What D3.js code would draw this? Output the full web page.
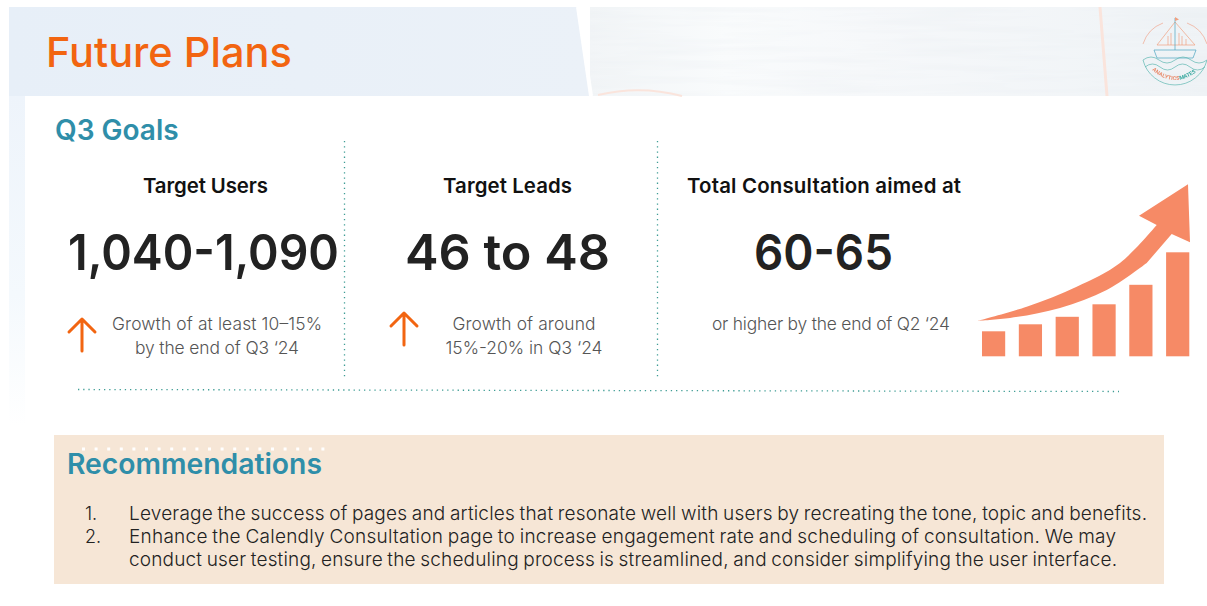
<!DOCTYPE html>
<html><head><meta charset="utf-8">
<script src="https://cdn.jsdelivr.net/npm/d3@7"></script>
<style>html,body{margin:0;background:#fff;overflow:hidden}svg{display:block}text{font-family:"Inter","Noto Sans",sans-serif}</style>
</head><body><svg id="c" width="1207" height="606"></svg>
<script>
const title = "Future Plans";
const goalsTitle = "Q3 Goals";
const kpiHeads = ["Target Users", "Target Leads", "Total Consultation aimed at"];
const kpiValues = ["1,040-1,090", "46 to 48", "60-65"];
const kpiNotes = [["Growth of at least 10–15%", "by the end of Q3 ‘24"], ["Growth of around", "15%-20% in Q3 ‘24"], ["or higher by the end of Q2 ‘24"]];
const recTitle = "Recommendations";
const recNums = ["1.", "2.", ""];
const recLines = [
 "Leverage the success of pages and articles that resonate well with users by recreating the tone, topic and benefits.",
 "Enhance the Calendly Consultation page to increase engagement rate and scheduling of consultation. We may",
 "conduct user testing, ensure the scheduling process is streamlined, and consider simplifying the user interface."];
const barCats = ["a", "b", "c", "d", "e", "f"];
const barVals = [25, 32, 39.5, 52, 71.5, 104];
const arrowUpper = [[-1.4,35.6],[47,49.6],[97,69.6],[140.3,93.3],[177,131.3]];
const arrowHead = [[159.3,140.6],[208.3,172],[210.3,114],[192,122.3]];
const arrowLower = [[167,93.3],[127,66.3],[80.3,48.3],[30.3,38.3],[-1.4,35.6]];

const svg = d3.select("#c");
const orange = "#f26511", teal = "#2f8ea9", salmon = "#f68a66", dot = "#3f9d95";
const defs = svg.append("defs");
const g = defs.append("linearGradient").attr("id", "bg");
[["0%","#f2f5f7"],["22%","#f9fbfc"],["45%","#f6f8fa"],["100%","#eff3f6"]].forEach(d => g.append("stop").attr("offset", d[0]).attr("stop-color", d[1]));
const lf = defs.append("linearGradient").attr("id","lf").attr("x1",0).attr("x2",0).attr("y1",0).attr("y2",1);
lf.append("stop").attr("offset","0%").attr("stop-color","#eef4fb");
lf.append("stop").attr("offset","60%").attr("stop-color","#f4f9fd");
lf.append("stop").attr("offset","100%").attr("stop-color","#ffffff");
const bl = defs.append("linearGradient").attr("id","bl");
bl.append("stop").attr("offset","0%").attr("stop-color","#e7eff8");
bl.append("stop").attr("offset","100%").attr("stop-color","#ebf1f8");
const tex = defs.append("filter").attr("id","tex").attr("x",0).attr("y",0).attr("width",1).attr("height",1);
tex.append("feTurbulence").attr("type","fractalNoise").attr("baseFrequency","0.008 0.15").attr("numOctaves",3).attr("seed",4);
tex.append("feColorMatrix").attr("values","0 0 0 0 0.75  0 0 0 0 0.79  0 0 0 0 0.83  0 0 0 0.4 -0.15");
defs.append("filter").attr("id","soft").append("feGaussianBlur").attr("stdDeviation",0.35);

svg.append("rect").attr("x", 590).attr("y", 7).attr("width", 617).attr("height", 89).attr("fill", "url(#bg)");
svg.append("rect").attr("x", 590).attr("y", 7).attr("width", 617).attr("height", 89).attr("filter", "url(#tex)");
svg.append("path").attr("d", "M9 7H577L590 96H9Z").attr("fill", "url(#bl)");
svg.append("rect").attr("x", 9).attr("y", 96).attr("width", 16).attr("height", 330).attr("fill", "url(#lf)");
svg.append("path").attr("d", "M578 7L591 96").attr("stroke", "#ffffff").attr("stroke-width", 4).attr("fill", "none");
svg.append("path").attr("d", "M1100 7L1107 96").attr("stroke", "#fae4dc").attr("stroke-width", 3).attr("fill", "none");
svg.append("path").attr("d", "M598 95Q640 85 682 96").attr("stroke", "#fae4dc").attr("stroke-width", 2).attr("fill", "none");

svg.append("text").text(title).attr("x", 46).attr("y", 67).attr("font-size", 41.5).attr("font-weight", 500).attr("fill", orange);
svg.append("text").text(goalsTitle).attr("x", 55).attr("y", 140).attr("font-size", 28).attr("font-weight", 600).attr("fill", teal);

const cx = [205.5, 507.5, 824];
const headW = [125, 129, 274];
const heads = svg.append("g").attr("font-size", 20.4).attr("font-weight", 600).attr("fill", "#111").attr("text-anchor", "middle");
heads.selectAll("text").data(kpiHeads).join("text").text(d => d).attr("x", (d, i) => cx[i]).attr("y", 193).attr("textLength", (d, i) => headW[i]);
const valW = [271, 205, 139];
const valX = [203.5, 507.5, 823.5];
const vals = svg.append("g").attr("font-size", 50).attr("font-weight", 600).attr("fill", "#222").attr("text-anchor", "middle");
vals.selectAll("text").data(kpiValues).join("text").text(d => d).attr("x", (d, i) => valX[i]).attr("y", 270)
  .attr("textLength", (d, i) => valW[i]).attr("lengthAdjust", "spacingAndGlyphs");

const noteX = [217, 524, 831];
const noteW = [[210, 164], [143, 157], [238]];
kpiNotes.forEach((ls, i) => ls.forEach((l, j) => svg.append("text").text(l).attr("x", noteX[i]).attr("y", 330 + j * 24)
  .attr("text-anchor", "middle").attr("font-size", 17.4).attr("font-weight", 300).attr("fill", "#555").attr("textLength", noteW[i][j])));

[[82, 319, 351], [404, 313, 345]].forEach(([x, y0, y1]) => {
  svg.append("path").attr("d", `M${x} ${y1}V${y0}M${x-13} ${y0+13}L${x} ${y0}L${x+13} ${y0+13}`)
    .attr("fill", "none").attr("stroke", orange).attr("stroke-width", 3).attr("stroke-linecap", "round").attr("stroke-linejoin", "round");
});

const dl = (x1, y1, x2, y2) => svg.append("line").attr("x1", x1).attr("y1", y1).attr("x2", x2).attr("y2", y2)
  .attr("stroke", dot).attr("stroke-width", 1.3).attr("stroke-dasharray", "1.3 3.9");
dl(344.5, 141, 344.5, 378); dl(657.5, 141, 657.5, 378); dl(78, 389.5, 1119, 391.5);

// bars + arrow
const x = d3.scaleBand().domain(barCats).range([982, 1189.3]).paddingInner(0.37).paddingOuter(0);
const y = d3.scaleLinear().domain([0, 104]).range([356.3, 252.3]);
svg.append("g").selectAll("rect").data(barVals).join("rect")
  .attr("x", (d, i) => x(barCats[i])).attr("width", x.bandwidth())
  .attr("y", d => y(d)).attr("height", d => y(0) - y(d)).attr("fill", salmon);
const ax = d3.scaleLinear().domain([0, 100]).range([979.7, 1079.7]);
const curve = d3.line().x(d => ax(d[0])).y(d => y(d[1])).curve(d3.curveCatmullRom);
const straight = d3.line().x(d => ax(d[0])).y(d => y(d[1]));
svg.append("path").attr("fill", salmon)
  .attr("d", curve(arrowUpper) + straight(arrowHead).replace("M", "L") + curve(arrowLower).replace("M", "L") + "Z");

// logo
const logo = svg.append("g").attr("fill", "none").attr("stroke-width", 0.7).attr("filter", "url(#soft)");
logo.append("path").attr("d", "M1143 44A33 33 0 0 1 1163 23M1187 23A33 33 0 0 1 1207 44").attr("stroke", "#f0a68e");
logo.append("path").attr("d", "M1143 60A33 33 0 0 0 1207 60").attr("stroke", "#5fb7b2");
logo.append("path").attr("d", "M1157 45L1175 22L1195 45Z").attr("stroke", "#f0a080");
logo.append("path").attr("d", "M1168 45V36M1171 45V33M1179 45V33M1182 45V36M1186 45V39").attr("stroke", "#f0a080");
logo.append("path").attr("d", "M1175 18V50").attr("stroke", "#4aa3c0");
logo.append("path").attr("d", "M1175 17L1179 19.5L1175 21Z").attr("fill", "#f0a080").attr("stroke", "none");
logo.append("path").attr("d", "M1154 50H1196L1193 58H1157Z").attr("stroke", "#4aa3c0");
logo.append("path").attr("d", "M1143 60q8 -6 16 0t16 0t16 0t16 0M1145 67q7.5 -6 15 0t15 0t15 0t15 0").attr("stroke", "#5fb7b2");
defs.append("path").attr("id", "logoArc").attr("d", "M1152 70Q1175 90 1199 70");
const lt = svg.append("text").attr("font-size", 5.2).attr("font-weight", 700).attr("filter", "url(#soft)").append("textPath").attr("href", "#logoArc");
lt.append("tspan").text("ANALYTICS").attr("fill", "#e98a6a");
lt.append("tspan").text("MATES").attr("fill", "#3aa9a0");

// recommendations
svg.append("rect").attr("x", 54).attr("y", 435).attr("width", 1110).attr("height", 149).attr("fill", "#f6e6d6");
svg.append("line").attr("x1", 82).attr("x2", 325).attr("y1", 449).attr("y2", 449).attr("stroke", "#fff").attr("stroke-width", 3).attr("stroke-dasharray", "3 9.6");
svg.append("text").text(recTitle).attr("x", 67).attr("y", 474).attr("font-size", 28.3).attr("font-weight", 600).attr("fill", teal);
const recY = [520, 543, 566];
const recW = [1018, 987, 988];
svg.append("g").selectAll("text").data(recNums).join("text").text(d => d).attr("x", 85).attr("y", (d, i) => recY[i]).attr("font-size", 18).attr("font-weight", 300).attr("fill", "#222");
svg.append("g").selectAll("text").data(recLines).join("text").text(d => d).attr("x", 129).attr("y", (d, i) => recY[i]).attr("font-size", 19).attr("font-weight", 300).attr("fill", "#222").attr("word-spacing", -1).attr("textLength", (d, i) => recW[i]);
</script></body></html>
